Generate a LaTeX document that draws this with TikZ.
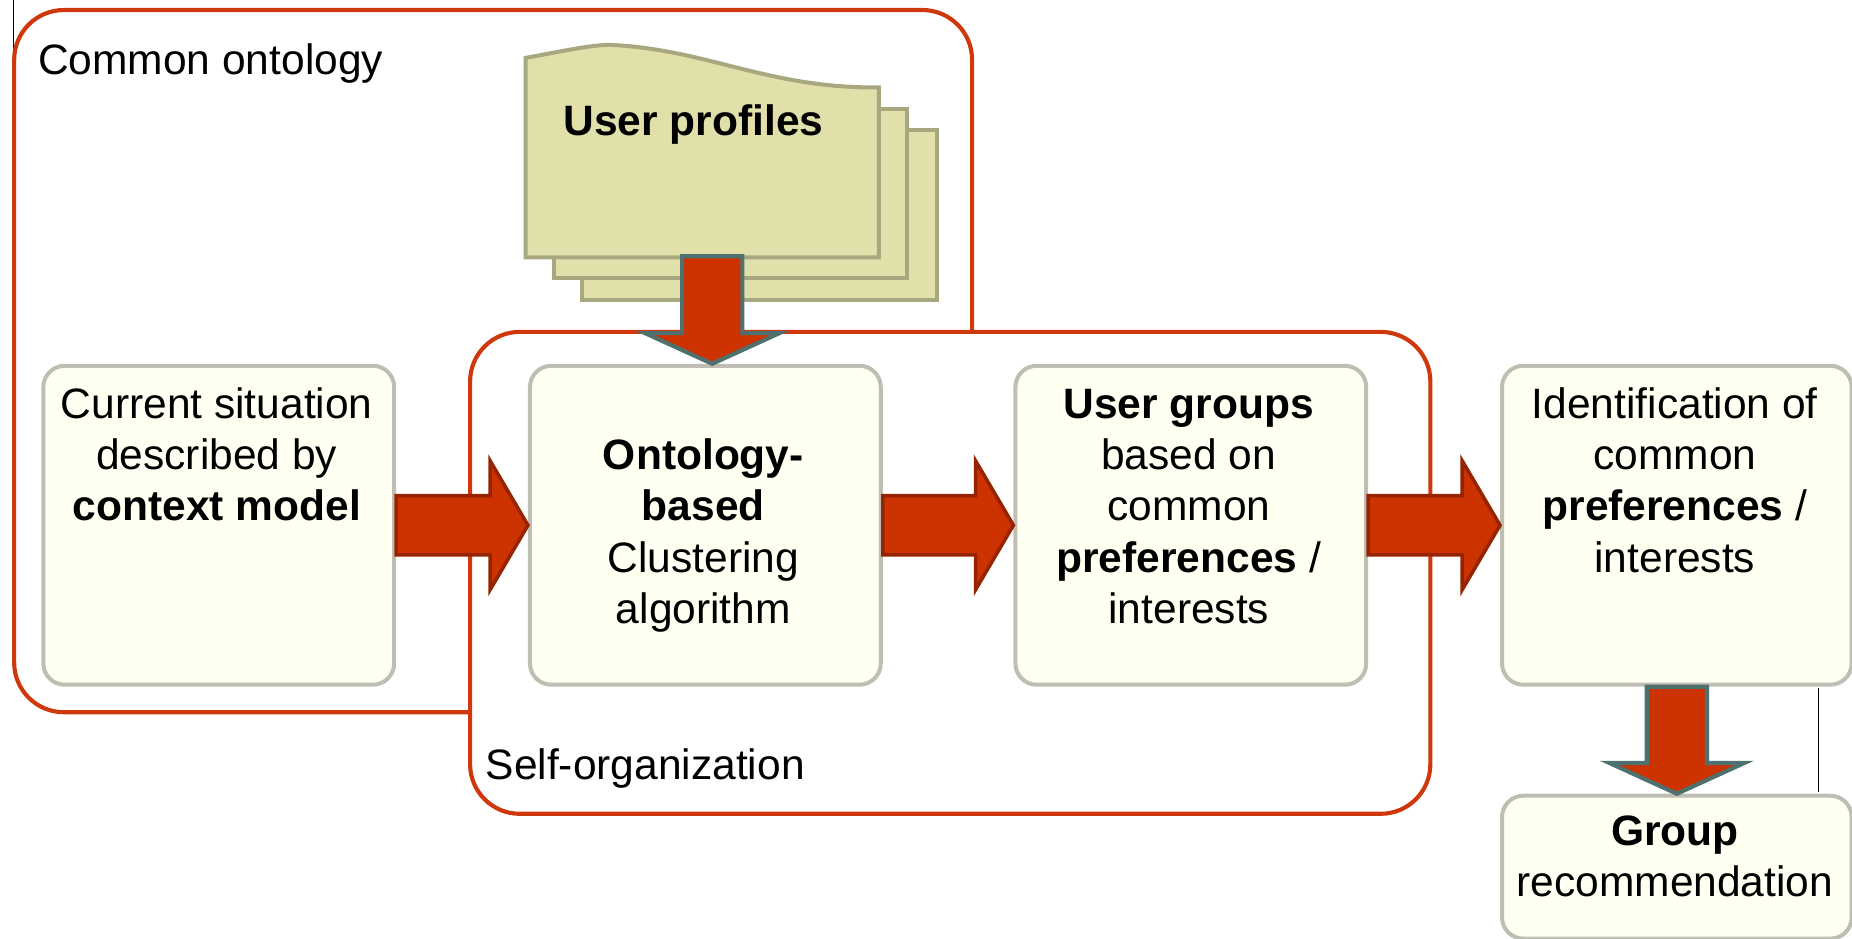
\documentclass[tikz,border=0pt]{standalone}
\usepackage{fontspec}
\setmainfont{Liberation Sans}
\usetikzlibrary{calc}

\definecolor{regionred}{RGB}{206,56,12}
\definecolor{arrowred}{RGB}{204,51,0}
\definecolor{arrowdark}{RGB}{150,36,0}
\definecolor{tealgray}{RGB}{78,112,110}
\definecolor{boxfill}{RGB}{255,255,242}
\definecolor{boxline}{RGB}{190,190,178}
\definecolor{docfill}{RGB}{226,224,170}
\definecolor{docline}{RGB}{168,168,128}

% first-line strut: puts the top of every text block 30pt above its first baseline
\newcommand\firstln{\rule{0pt}{30pt}}

% horizontal block arrow from the east side of #1 to the west side of #2
\newcommand\harrow[2]{%
  \draw[hblock] let \p1=(#1.east), \p2=(#2.west) in
    (\x1,\y1+25pt) -- (\x2-32pt,\y1+25pt) -- (\x2-32pt,\y1+54.5pt) -- (\x2,\y1)
    -- (\x2-32pt,\y1-54.5pt) -- (\x2-32pt,\y1-25pt) -- (\x1,\y1-25pt) -- cycle;}

% vertical block arrow from #1 down to the height of #2
\newcommand\varrow[2]{%
  \draw[vblock] let \p1=(#1), \p2=(#2) in
    (\x1-25.5pt,\y1) -- (\x1-25.5pt,\y2+26pt) -- (\x1-57pt,\y2+26pt) -- (\x1,\y2)
    -- (\x1+57pt,\y2+26pt) -- (\x1+25.5pt,\y2+26pt) -- (\x1+25.5pt,\y1) -- cycle;}

\begin{document}
\begin{tikzpicture}[x=1pt,y=-1pt,
  region/.style={draw=regionred,line width=3.5pt,rounded corners=42pt},
  procbox/.style={draw=boxline,fill=boxfill,line width=3.4pt,rounded corners=18pt,
    rectangle,anchor=north west,inner sep=0pt},
  boxtext/.style={align=center,anchor=north,inner sep=0pt,
    font=\fontsize{36}{43.4}\selectfont},
  plaintext/.style={anchor=base west,inner sep=0pt,font=\fontsize{36}{43.4}\selectfont},
  hblock/.style={fill=arrowred,draw=arrowdark,line width=3pt,line join=miter},
  vblock/.style={fill=arrowred,draw=tealgray,line width=3.5pt,line join=miter},
  docsheet/.style={fill=docfill,draw=docline,line width=3.4pt,line join=miter},
  edgeline/.style={draw=black,line width=0.9pt}]

\useasboundingbox (0,0) rectangle (1568,795);

% thin edge line at the upper left
\coordinate (tl0) at (11.5,0);
\coordinate (tl1) at (11.5,46);
\draw[edgeline] (tl0) -- (tl1);

% regions
\draw[region] (398,603) -- (12,603) -- (12,8.5) -- (823,8.5) -- (823,281);
\draw[region] (398,281) rectangle (1211,689);
\node[plaintext] (lblonto) at (32,63) {Common ontology};
\node[plaintext] (lblself) at (411,660) {Self-organization};

% stacked user profile sheets
\draw[docsheet] (493,110) rectangle (793,254);
\draw[docsheet] (469,92) rectangle (768,235);
\draw[docsheet] (445,218) -- (445,49) .. controls (478,43) and (500,38) .. (517,38)
  .. controls (600,42) and (650,75) .. (744,74) -- (744,218) -- cycle;
\node[anchor=base west,inner sep=0pt,font=\fontsize{36}{43.4}\selectfont\bfseries]
  (profiles) at (477,115) {User profiles};
\coordinate (profbot) at (603,217);

% process boxes
\node[procbox,minimum width=297pt,minimum height=270pt] (cur)   at (35,308) {};
\node[procbox,minimum width=297pt,minimum height=270pt] (onto)  at (447,308) {};
\node[procbox,minimum width=297pt,minimum height=270pt] (ugrp)  at (858,308) {};
\node[procbox,minimum width=296pt,minimum height=270pt] (ident) at (1270,308) {};
\node[procbox,minimum width=296pt,minimum height=121pt] (grp)   at (1270,672) {};

\node[boxtext] (curtxt) at (183.5,324)
  {\firstln Current situation\\described by\\\textbf{context model}};
\node[boxtext] (ontotxt) at (595.5,367.4)
  {\firstln\textbf{Ontology-}\\\textbf{based}\\Clustering\\algorithm};
\node[boxtext] (ugrptxt) at (1006.5,324)
  {\firstln\textbf{User groups}\\based on\\common\\\textbf{preferences} /\\interests};
\node[boxtext] (identtxt) at (1418,324)
  {\firstln Identification of\\common\\\textbf{preferences} /\\interests};
\node[boxtext] (grptxt) at (1418,685.5)
  {\firstln\textbf{Group}\\recommendation};

% thin edge line between the two right boxes
\coordinate (rl) at (1539.5,0);
\draw[edgeline] ($(ident.south -| rl)+(0,1.5)$) -- ($(grp.north -| rl)-(0,1.5)$);

% flow arrows
\harrow{cur}{onto}
\harrow{onto}{ugrp}
\harrow{ugrp}{ident}
\varrow{profbot}{onto.north -| profbot}
\varrow{ident.south}{grp.north}

\end{tikzpicture}
\end{document}
